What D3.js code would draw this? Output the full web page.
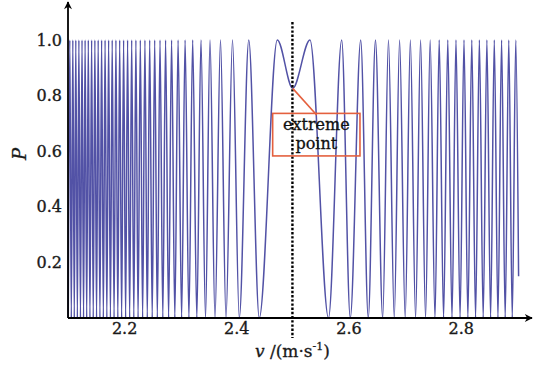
<!DOCTYPE html>
<html>
<head>
<meta charset="utf-8">
<script src="https://cdn.jsdelivr.net/npm/d3@7"></script>
<style>
  html, body { margin: 0; padding: 0; background: #fff; }
  svg { display: block; font-family: "DejaVu Serif", "Liberation Serif", serif; }
</style>
</head>
<body>
<div id="chart"></div>
<script>
// peak (P = 1) and trough (P = 0) positions of the curve
const peakV = [
  2.1032, 2.1086, 2.1139, 2.1194, 2.1250, 2.1305, 2.1362, 2.1421, 2.1479, 2.1538,
  2.1599, 2.1661, 2.1724, 2.1788, 2.1854, 2.1921, 2.1991, 2.2062, 2.2135, 2.2210,
  2.2289, 2.2371, 2.2456, 2.2545, 2.2640, 2.2739, 2.2846, 2.2962, 2.3087, 2.3222,
  2.3370, 2.3531, 2.3718, 2.3932, 2.4222, 2.4730,
  2.5313, 2.5878, 2.6217, 2.6480, 2.6712, 2.6910, 2.7102, 2.7284, 2.7455, 2.7616,
  2.7769, 2.7915, 2.8058, 2.8197, 2.8332, 2.8466, 2.8598, 2.8728, 2.8856, 2.8981
];
const troughV = [
  2.1005, 2.1059, 2.1112, 2.1167, 2.1222, 2.1277, 2.1333, 2.1391, 2.1450, 2.1509,
  2.1569, 2.1630, 2.1692, 2.1756, 2.1821, 2.1888, 2.1956, 2.2027, 2.2099, 2.2173,
  2.2249, 2.2330, 2.2413, 2.2501, 2.2592, 2.2690, 2.2793, 2.2904, 2.3025, 2.3155,
  2.3296, 2.3451, 2.3620, 2.3816, 2.4053, 2.4409,
  2.5643, 2.6031, 2.6352, 2.6609, 2.6815, 2.7010, 2.7195, 2.7373, 2.7541, 2.7694,
  2.7844, 2.7988, 2.8127, 2.8264, 2.8400, 2.8532, 2.8663, 2.8792, 2.8918
];
const extremePoint = { v: 2.5005, p: 0.826 };
const endPoint = { v: 2.9031, p: 0.15 };

const xTicks = [2.2, 2.4, 2.6, 2.8];
const yTicks = [0.2, 0.4, 0.6, 0.8, 1.0];
const markV = 2.5;

// annotation box and leader end, in data units
const noteBox = { v0: 2.4648, v1: 2.6204, p0: 0.736, p1: 0.583 };
const leaderEnd = { v: 2.5432, p: 0.730 };
const noteLines = ["extreme", "point"];

const W = 533, H = 367;
const x = d3.scaleLinear().domain([2.1, 2.927]).range([68, 532]);
const y = d3.scaleLinear().domain([0, 1]).range([318, 40]);

const svg = d3.select("#chart").append("svg")
  .attr("width", W).attr("height", H);

const defs = svg.append("defs");
defs.append("marker")
  .attr("id", "arrow")
  .attr("viewBox", "0 0 10 10")
  .attr("refX", 9).attr("refY", 5)
  .attr("markerWidth", 10).attr("markerHeight", 8)
  .attr("markerUnits", "userSpaceOnUse")
  .attr("orient", "auto")
  .append("path")
  .attr("d", "M0,0 L10,5 L0,10 L3,5 Z")
  .attr("fill", "#000");

// build the curve from the read extrema
const pts = peakV.map(v => ({ v, p: 1 }))
  .concat(troughV.map(v => ({ v, p: 0 })))
  .concat([extremePoint, endPoint])
  .sort((a, b) => a.v - b.v);

const line = d3.line()
  .x(d => x(d.v))
  .y(d => y(d.p))
  .curve(d3.curveMonotoneX);

svg.append("path")
  .datum(pts)
  .attr("fill", "none")
  .attr("stroke", "#5252a6")
  .attr("stroke-width", 1.5)
  .attr("d", line);

// dotted marker line at v = 2.5
svg.append("line")
  .attr("x1", x(markV)).attr("x2", x(markV))
  .attr("y1", 22).attr("y2", 338)
  .attr("stroke", "#000")
  .attr("stroke-width", 2.4)
  .attr("stroke-dasharray", "2.4,1.8");

// axes
svg.append("line")
  .attr("x1", x(2.1)).attr("y1", y(0))
  .attr("x2", x(2.927)).attr("y2", y(0))
  .attr("stroke", "#000").attr("stroke-width", 1.8)
  .attr("marker-end", "url(#arrow)");
svg.append("line")
  .attr("x1", x(2.1)).attr("y1", y(0))
  .attr("x2", x(2.1)).attr("y2", 2)
  .attr("stroke", "#000").attr("stroke-width", 1.8)
  .attr("marker-end", "url(#arrow)");

const xAxis = svg.append("g")
  .attr("transform", `translate(0,${y(0)})`)
  .call(d3.axisBottom(x).tickValues(xTicks).tickSize(0).tickPadding(5).tickFormat(d3.format(".1f")));
const yAxis = svg.append("g")
  .attr("transform", `translate(${x(2.1)},0)`)
  .call(d3.axisLeft(y).tickValues(yTicks).tickSize(0).tickPadding(6).tickFormat(d3.format(".1f")));
[xAxis, yAxis].forEach(g => {
  g.select(".domain").remove();
  g.selectAll("text")
    .attr("font-family", "DejaVu Serif, serif")
    .attr("font-size", 16)
    .attr("fill", "#1a1a1a")
    .attr("stroke", "#1a1a1a")
    .attr("stroke-width", 0.35);
});

// axis titles
const xt = svg.append("text")
  .attr("x", x(markV)).attr("y", 357)
  .attr("text-anchor", "middle")
  .attr("font-size", 17)
  .attr("fill", "#1a1a1a")
  .attr("stroke", "#1a1a1a")
  .attr("stroke-width", 0.3);
xt.append("tspan").attr("font-style", "italic").text("v");
xt.append("tspan").text(" /(m·s");
xt.append("tspan").attr("font-size", 11).attr("dy", -7).text("-1");
xt.append("tspan").attr("dy", 7).text(")");

svg.append("text")
  .attr("transform", `translate(26,${y(0.59)}) rotate(-90)`)
  .attr("text-anchor", "middle")
  .attr("font-size", 18)
  .attr("font-style", "italic")
  .attr("fill", "#1a1a1a")
  .attr("stroke", "#1a1a1a")
  .attr("stroke-width", 0.3)
  .text("P");

// annotation
const noteColor = "#e4603e";
svg.append("line")
  .attr("x1", x(extremePoint.v)).attr("y1", y(extremePoint.p))
  .attr("x2", x(leaderEnd.v)).attr("y2", y(leaderEnd.p))
  .attr("stroke", noteColor).attr("stroke-width", 1.6);
svg.append("rect")
  .attr("x", x(noteBox.v0)).attr("y", y(noteBox.p0))
  .attr("width", x(noteBox.v1) - x(noteBox.v0))
  .attr("height", y(noteBox.p1) - y(noteBox.p0))
  .attr("fill", "none")
  .attr("stroke", noteColor).attr("stroke-width", 1.6);
const cx = (x(noteBox.v0) + x(noteBox.v1)) / 2;
svg.selectAll(".note")
  .data(noteLines)
  .enter().append("text")
  .attr("class", "note")
  .attr("x", cx)
  .attr("y", (d, i) => y(noteBox.p0) + 17 + i * 19)
  .attr("text-anchor", "middle")
  .attr("font-size", 16)
  .attr("fill", "#111")
  .attr("stroke", "#111")
  .attr("stroke-width", 0.3)
  .text(d => d);
</script>
</body>
</html>
